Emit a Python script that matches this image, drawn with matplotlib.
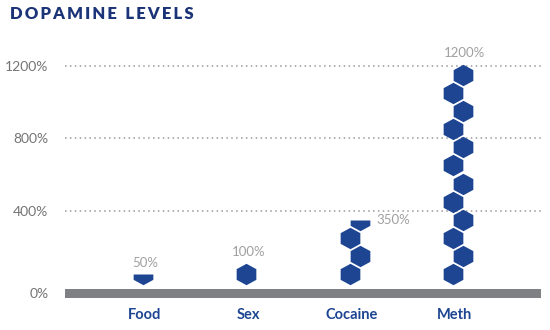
import numpy as np
import matplotlib.pyplot as plt
from matplotlib.path import Path

categories = ['Food', 'Sex', 'Cocaine', 'Meth']
levels = [50, 100, 350, 1200]          # dopamine level, % of baseline
y_ticks = [400, 800, 1200]
title = 'DOPAMINE LEVELS'

navy = '#1d4592'
title_col = '#1b3478'
bar_gray = '#7f8083'

# pointy-top hexagon, plus its lower half for the 50% pieces
hw = 0.92
hex_path = Path([(0, 1), (hw, 0.5), (hw, -0.5), (0, -1), (-hw, -0.5), (-hw, 0.5), (0, 1)],
                [Path.MOVETO] + [Path.LINETO] * 5 + [Path.CLOSEPOLY])
half_path = Path([(-hw, 0), (hw, 0), (hw, -0.5), (0, -1), (-hw, -0.5), (-hw, 0)],
                 [Path.MOVETO] + [Path.LINETO] * 4 + [Path.CLOSEPOLY])

fig = plt.figure(figsize=(5.5, 3.3), dpi=100)
ax = fig.add_axes([65 / 550, 30 / 330, 476 / 550, 255 / 330])
ax.set_xlim(-0.774, 3.833)
ax.set_ylim(-94, 1316)

# px -> data helpers for this layout
ypx = 1410 / 255      # data units per pixel (y)
xpx = 4.607 / 476     # data units per pixel (x)
hex_px = 21.4         # hexagon height in pixels
hex_h = hex_px / 2 * ypx
msize = hex_px * 0.72  # marker size in points

for y in y_ticks:
    ax.axhline(y, color='#9a9a9a', lw=1.1, ls=(0, (1, 2.2)), zorder=1)

# baseline bar
ax.axhspan(-83, -33, color=bar_gray, lw=0, zorder=2)

for i, (name, v) in enumerate(zip(categories, levels)):
    full = int(v // 100)
    half = (v % 100) >= 50
    n = full + int(half)
    xs = [i - 2 * xpx if k % 2 == 0 else i + 8 * xpx for k in range(n)]
    ys = [(k + 0.5) * 100 for k in range(n)]
    if full:
        ax.scatter(xs[:full], ys[:full], marker=hex_path, s=msize ** 2,
                   color=navy, lw=0, zorder=3)
    if half:
        ax.scatter(xs[-1:], ys[-1:], marker=half_path, s=msize ** 2,
                   color=navy, lw=0, zorder=3)
        top = ys[-1]
    else:
        top = ys[-1] + hex_h
    lab = f'{v}%'
    # label goes on the side if it would sit on a grid line
    if any(abs(top + 90 - g) < 80 for g in y_ticks):
        ax.text(xs[-1] + 17 * xpx, v, lab, ha='left', va='center',
                fontsize=9.5, color='#a0a0a0', family='Lato')
    else:
        ax.text(xs[-1] + 2 * xpx, top + 30, lab, ha='center', va='bottom',
                fontsize=9.5, color='#a0a0a0', family='Lato')

ax.set_xticks(range(len(categories)))
ax.set_xticklabels(categories, fontsize=10.5, fontweight='bold', color=navy, family='Lato')
ax.set_yticks([-58] + y_ticks)
ax.set_yticklabels([f'{t}%' for t in [0] + y_ticks], fontsize=10, color='#747474', family='Lato')
ax.tick_params(axis='x', length=0, pad=6)
ax.tick_params(axis='y', length=0, pad=12)
for s in ax.spines.values():
    s.set_visible(False)

fig.text(10 / 550, 1 - 14 / 330, '\u2009'.join(title).replace('\u2009 \u2009', '\u2009\u2009\u2009\u2009'),
         fontsize=12, fontweight='heavy', color=title_col, va='center', ha='left',
         family=['Lato', 'DejaVu Sans'])

fig.savefig('out.png', dpi=100, facecolor='white')
